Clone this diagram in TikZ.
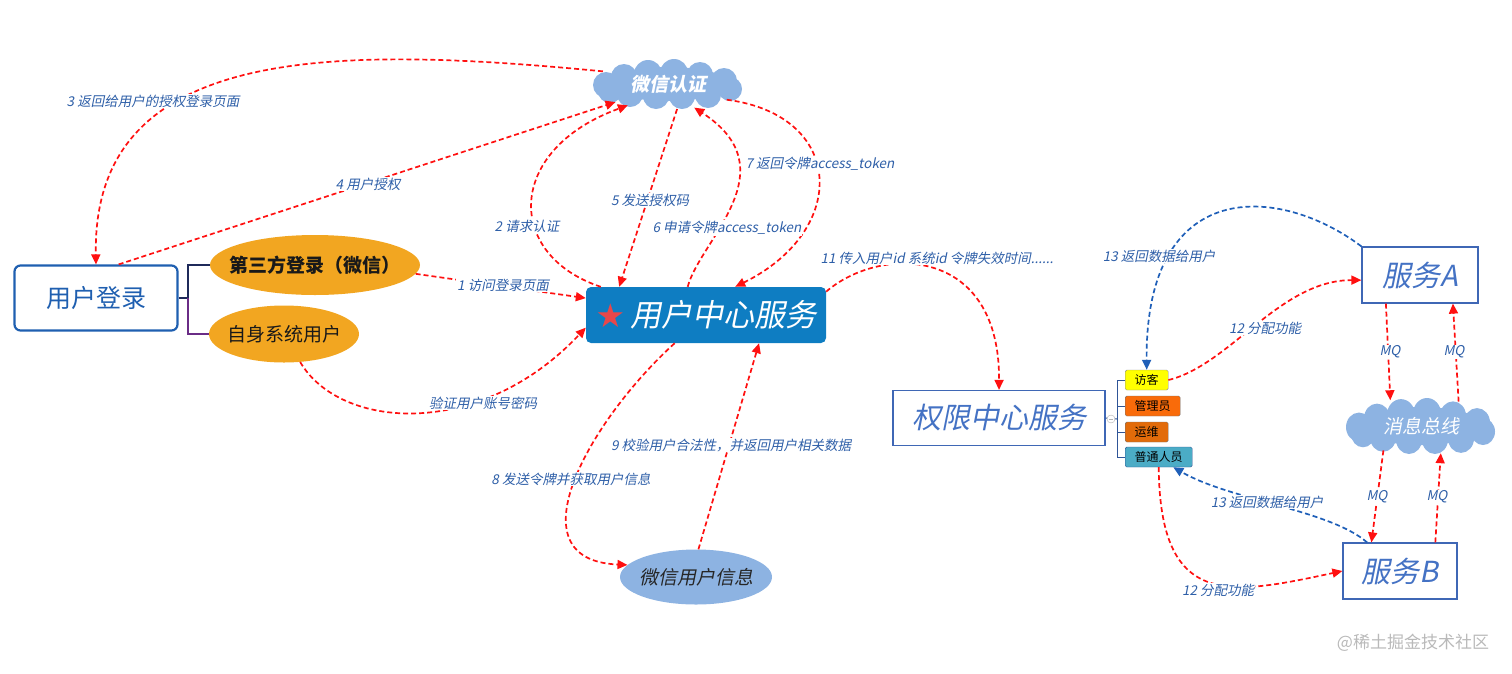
\documentclass[tikz,border=0pt]{standalone}
\usepackage{fontspec}
\setmainfont{Noto Sans CJK SC}[ItalicFont={Noto Sans CJK SC}, ItalicFeatures={FakeSlant=0.2}, BoldItalicFont={Noto Sans CJK SC/B}, BoldItalicFeatures={FakeSlant=0.2}]
\newfontfamily\symfont{DejaVu Sans}
\usetikzlibrary{arrows.meta, shapes.geometric}

\definecolor{flowred}{HTML}{FF1010}
\definecolor{replyblue}{HTML}{1F5FB8}
\definecolor{lblblue}{HTML}{2E5FA8}
\definecolor{txtblue}{HTML}{4472C4}
\definecolor{svcblue}{HTML}{3F67B5}
\definecolor{loginblue}{HTML}{1F5FB0}
\definecolor{orangefill}{HTML}{F2A621}
\definecolor{ucsblue}{HTML}{0E7DC2}
\definecolor{cloudblue}{HTML}{8DB3E2}
\definecolor{starred}{HTML}{E8474A}
\definecolor{navyline}{HTML}{1F2A5A}
\definecolor{purpline}{HTML}{6A2C86}
\definecolor{fkyellow}{HTML}{FFFF00}
\definecolor{glyorange}{HTML}{F96B0A}
\definecolor{ywbrown}{HTML}{E26B0A}
\definecolor{ptteal}{HTML}{4BACC6}
\definecolor{brline}{HTML}{2F5597}

\newcommand\ovaltext[1]{\makebox[0pt]{#1}}
% cloud body: centre, vertical stretch
\newcommand\puffs[2]{%
  \begin{scope}[shift={(#1)}, yscale=#2]
    \fill[cloudblue] (0,0) ellipse [x radius=62, y radius=17];
    \foreach \px/\py/\pr in {-62/1/13, -44/-7/13, -20/-10/14, 6/-11/14, 32/-9/13, 56/-3/13, 62/5/12, 40/11/13, 14/12/13, -12/12/13, -38/10/13, -58/7/12}
      \fill[cloudblue] (\px,\py) circle [radius=\pr];
  \end{scope}}

\begin{document}
\begin{tikzpicture}[
    x=1pt, y=-1pt,
    flow/.style={draw=flowred, dash pattern=on 5pt off 3pt, line width=1.7pt, -{Triangle[length=10pt,width=9pt]}},
    reply/.style={flow, draw=replyblue},
    lbl/.style={fill=white, inner sep=1pt, text=lblblue, font=\fontsize{13.5}{15}\selectfont\itshape},
    oval/.style={ellipse, fill=orangefill, inner sep=0pt, text=black!90},
    puff/.style={ellipse, inner sep=0pt, text=white},
    svc/.style={draw=svcblue, line width=1.2pt, fill=white, text=txtblue, font=\fontsize{29}{32}\selectfont\itshape, minimum height=56},
    role/.style={draw, rounded corners=1.5pt, anchor=west, minimum height=20, inner xsep=9.5pt, inner ysep=0pt, font=\fontsize{12}{14}\selectfont},
    brlink/.style={draw=brline, line width=1pt}
]
    \useasboundingbox (0,0) rectangle (1512,673);

    % Login side
    \node[draw=loginblue, line width=2.2pt, rounded corners=6pt, minimum width=163, minimum height=65, text=loginblue, font=\fontsize{25}{28}\selectfont] (login) at (96,298) {用户登录};
    \node[oval, minimum width=210, minimum height=60, font=\fontsize{19}{22}\selectfont\bfseries] (tp) at (315,265) {\ovaltext{第三方登录（微信）}};
    \node[oval, minimum width=150, minimum height=57, font=\fontsize{19}{22}\selectfont] (self) at (284,334) {\ovaltext{自身系统用户}};
    \coordinate (lj) at (188,298);
    \draw[navyline, line width=1.3pt] (login.east) -- (lj) |- (tp.west);
    \draw[purpline, line width=1.3pt] (lj) |- (self.west);

    % Centre
    \node[fill=ucsblue, rounded corners=5pt, minimum width=240, minimum height=56, text=white, font=\fontsize{31}{34}\selectfont\itshape] (ucs) at (706,315) {{\symfont\fontsize{33}{34}\selectfont\raisebox{-1pt}{\textcolor{starred}{★}}}\,用户中心服务};
    \puffs{668,84}{1}
    \node[puff, minimum width=150, minimum height=50, font=\fontsize{19}{22}\selectfont\bfseries\itshape] (wxauth) at (668,84) {\ovaltext{微信认证}};
    \node[ellipse, fill=cloudblue, inner sep=0pt, minimum width=152, minimum height=55, text=black!85, font=\fontsize{19}{22}\selectfont\itshape] (wxinfo) at (696,577) {\ovaltext{微信用户信息}};

    % Right side
    \node[svc, minimum width=212, minimum height=55] (qx) at (999,418) {权限中心服务};
    \node[role, fill=fkyellow, draw=black!45] (fk) at (1125,380) {访客};
    \node[role, fill=glyorange, draw=black!55] (gly) at (1125,406) {管理员};
    \node[role, fill=ywbrown, draw=black!55] (yw) at (1125,432) {运维};
    \node[role, fill=ptteal, draw=brline] (pt) at (1125,457) {普通人员};
    \coordinate (rj) at (1117,419);
    \draw[brlink] (qx.east) -- (rj);
    \draw[brlink] (rj) |- (fk.west);
    \draw[brlink] (rj) |- (gly.west);
    \draw[brlink] (rj) |- (yw.west);
    \draw[brlink] (rj) |- (pt.west);
    \node[circle, draw=gray!60, fill=white, inner sep=0pt, minimum size=8] (fold) at (1111,419) {};
    \draw[gray!60] ([xshift=2pt]fold.west) -- ([xshift=-2pt]fold.east);

    \node[svc, minimum width=116] (sa) at (1420,275) {服务A};
    \node[svc, minimum width=114] (sb) at (1400,571) {服务B};
    \puffs{1421,426}{1.12}
    \node[puff, minimum width=150, minimum height=56, font=\fontsize{19}{22}\selectfont\itshape] (bus) at (1421,426) {\ovaltext{消息总线}};

    % Flows
    \draw[flow] (tp.355) -- (ucs.172);
    \draw[flow] (ucs.165) .. controls (505,255) and (505,150) .. (wxauth.208);
    \draw[flow] (wxauth.169) .. controls (330,45) and (92,45) .. (login.north);
    \draw[flow] (login.56) -- (wxauth.199);
    \draw[flow] (wxauth.290) -- (ucs.162);
    \draw[flow] (ucs.123) .. controls (700,240) and (790,170) .. (wxauth.318);
    \draw[flow] (wxauth.345) .. controls (845,115) and (850,230) .. (ucs.44);
    \draw[flow] (ucs.222) .. controls (590,420) and (510,560) .. (wxinfo.170);
    \draw[flow] (wxinfo.85) -- (ucs.332);
    \draw[flow] (self.300) .. controls (340,430) and (480,440) .. (ucs.186);
    \draw[flow] (ucs.11) .. controls (880,245) and (1000,245) .. (qx.north);
    \draw[flow] (fk.east) .. controls (1230,365) and (1280,280) .. (sa.185);
    \draw[flow] (pt.south) .. controls (1160,610) and (1230,595) .. (sb.west);
    \draw[reply] (sa.north west) .. controls (1280,185) and (1145,175) .. (fk.north);
    \draw[reply] (sb.139) .. controls (1330,510) and (1230,500) .. (pt.325);
    \draw[flow] (sa.220) -- (bus.140);
    \draw[flow] (bus.33) -- (sa.319);
    \draw[flow] (bus.213) -- (sb.135);
    \draw[flow] (sb.39) -- (bus.306);

    % Labels
    \node[lbl] (l1) at (503,285) {1 访问登录页面};
    \node[lbl] (l2) at (527,226) {2 请求认证};
    \node[lbl] (l3) at (153,101) {3 返回给用户的授权登录页面};
    \node[lbl] (l4) at (368,184) {4 用户授权};
    \node[lbl] (l5) at (650,200) {5 发送授权码};
    \node[lbl] (l6) at (727,228) {6 申请令牌access\_token};
    \node[lbl] (l7) at (820,164) {7 返回令牌access\_token};
    \node[lbl] (l8) at (571,479) {8 发送令牌并获取用户信息};
    \node[lbl] (l9) at (731,445) {9 校验用户合法性，并返回用户相关数据};
    \node[lbl] (lpw) at (483,403) {验证用户账号密码};
    \node[lbl] (l11) at (937,258) {11 传入用户id 系统id 令牌失效时间......};
    \node[lbl] (l12a) at (1265,328) {12 分配功能};
    \node[lbl] (l12b) at (1218,590) {12 分配功能};
    \node[lbl] (l13a) at (1159,256) {13 返回数据给用户};
    \node[lbl] (l13b) at (1267,502) {13 返回数据给用户};
    \node[lbl] (mq1) at (1390,352) {MQ};
    \node[lbl] (mq2) at (1454,352) {MQ};
    \node[lbl] (mq3) at (1377,497) {MQ};
    \node[lbl] (mq4) at (1437,497) {MQ};

    \node[font=\fontsize{17}{20}\selectfont, text=gray!55] (mark) at (1413,643) {@稀土掘金技术社区};
\end{tikzpicture}
\end{document}
